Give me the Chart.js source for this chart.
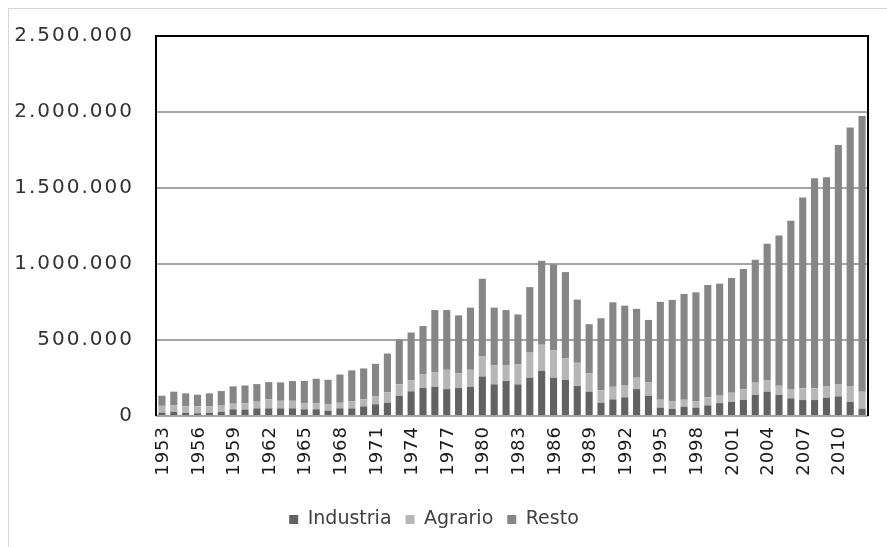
<!DOCTYPE html>
<html>
<head>
<meta charset="utf-8">
<script src="https://cdn.jsdelivr.net/npm/chart.js@4.4.0/dist/chart.umd.min.js"></script>
<style>
  html, body { margin: 0; padding: 0; background: #ffffff; }
  #frame { position: absolute; left: 8px; top: 8px; width: 900px; height: 560px; border: 1px solid #d6d6d6; box-sizing: border-box; }
  #wrap { position: absolute; left: 0; top: 0; width: 887px; height: 547px; }
  #xlabels { position: absolute; left: 0; top: 0; width: 887px; height: 547px; pointer-events: none; }
  .xl { position: absolute; width: 22px; line-height: 22px; font-family: 'DejaVu Sans'; font-size: 18px; letter-spacing: 1px;
        color: #1a1a1a; writing-mode: vertical-rl; transform: rotate(180deg); white-space: nowrap; text-align: left; }
</style>
</head>
<body>
<div id="frame"></div>
<div id="wrap"><canvas id="c" width="887" height="547"></canvas></div>
<div id="xlabels"></div>
<script>
const years = [];
for (let y = 1953; y <= 2012; y++) years.push(String(y));

const industria = [22,28,20,18,21,28,44,42,50,50, 50,50,44,44,35,50,50,63,77,87,
  133,162,184,192,177,184,192,260,208,230, 208,252,297,252,237,197,160,87,109,123,
  177,133,55,46,61,55,70,85,92,106, 138,160,138,116,105,105,120,129,92,48];
const agrario = [45,44,44,46,43,40,37,43,44,61, 50,50,41,41,42,37,46,46,54,68,
  75,74,92,97,127,98,112,134,126,104, 133,165,172,181,143,153,120,82,83,77,
  75,88,52,52,46,43,53,53,61,69, 81,74,61,59,77,77,77,79,105,112];
const resto = [66,88,85,76,85,96,114,116,116,112, 121,130,145,160,161,186,204,204,212,256,
  295,313,316,408,393,380,409,509,379,363, 327,431,552,563,567,416,324,474,556,526,
  453,411,644,666,696,716,739,733,755,792, 809,899,989,1109,1255,1382,1374,1575,1701,1813];

const yTicks = [0, 500000, 1000000, 1500000, 2000000, 2500000];
const xTickEvery = 3;

const k = v => v * 1000;
const fmt = v => String(v).replace(/\B(?=(\d{3})+(?!\d))/g, '.');

function spaced(scale, px) {
  if (scale._spacedWrapped) return;
  const orig = scale.drawLabels;
  scale.drawLabels = function(area) {
    const ctx = this.ctx;
    ctx.save();
    ctx.letterSpacing = px;
    orig.call(this, area);
    ctx.restore();
  };
  scale._spacedWrapped = true;
}

const framePlugin = {
  id: 'frame',
  afterDraw(chart) {
    const a = chart.chartArea, ctx = chart.ctx;
    ctx.save();
    ctx.strokeStyle = '#000000';
    ctx.lineWidth = 2;
    ctx.beginPath();
    ctx.moveTo(a.left, a.bottom);
    ctx.lineTo(a.left, a.top);
    ctx.lineTo(a.right, a.top);
    ctx.lineTo(a.right, a.bottom);
    ctx.stroke();
    ctx.restore();
  }
};

const chart = new Chart(document.getElementById('c'), {
  type: 'bar',
  data: {
    labels: years,
    datasets: [
      { label: 'Industria', data: industria.map(k), backgroundColor: '#626262' },
      { label: 'Agrario', data: agrario.map(k), backgroundColor: '#b6b6b6' },
      { label: 'Resto', data: resto.map(k), backgroundColor: '#868686' }
    ]
  },
  options: {
    responsive: false,
    animation: false,
    layout: { padding: { left: 0, right: 19, top: 36, bottom: 8 } },
    datasets: { bar: { categoryPercentage: 1.0, barPercentage: 0.6 } },
    scales: {
      x: {
        stacked: true,
        grid: { display: false, drawTicks: false },
        border: { display: false },
        ticks: { display: false, autoSkip: false },
        afterFit(s) { s.height = 80; }
      },
      y: {
        stacked: true,
        min: 0,
        max: 2500000,
        afterBuildTicks(s) { s.ticks = yTicks.map(v => ({ value: v })); },
        grid: { color: '#a3a3a3', lineWidth: 2, drawTicks: false },
        border: { display: false },
        ticks: {
          padding: 22,
          color: '#333333',
          font: { family: 'DejaVu Sans', size: 20 },
          callback: v => fmt(v)
        },
        afterFit(s) { s.width = 156; spaced(s, '2px'); }
      }
    },
    plugins: {
      legend: {
        position: 'bottom',
        labels: {
          usePointStyle: true,
          pointStyle: 'rect',
          boxWidth: 9,
          boxHeight: 9,
          padding: 14,
          color: '#404040',
          font: { family: 'DejaVu Sans', size: 19 }
        }
      },
      tooltip: { enabled: false }
    }
  },
  plugins: [framePlugin]
});

// x-axis tick labels, placed from the chart's own x scale, rotated to read bottom-to-top
(function placeXLabels() {
  const xs = chart.scales.x;
  const holder = document.getElementById('xlabels');
  holder.innerHTML = '';
  const top = xs.top + 10;
  years.forEach((lab, i) => {
    if (i % xTickEvery !== 0) return;
    const el = document.createElement('div');
    el.className = 'xl';
    el.textContent = lab;
    el.style.left = (xs.getPixelForTick(i) - 11) + 'px';
    el.style.top = top + 'px';
    holder.appendChild(el);
  });
})();
</script>
</body>
</html>
